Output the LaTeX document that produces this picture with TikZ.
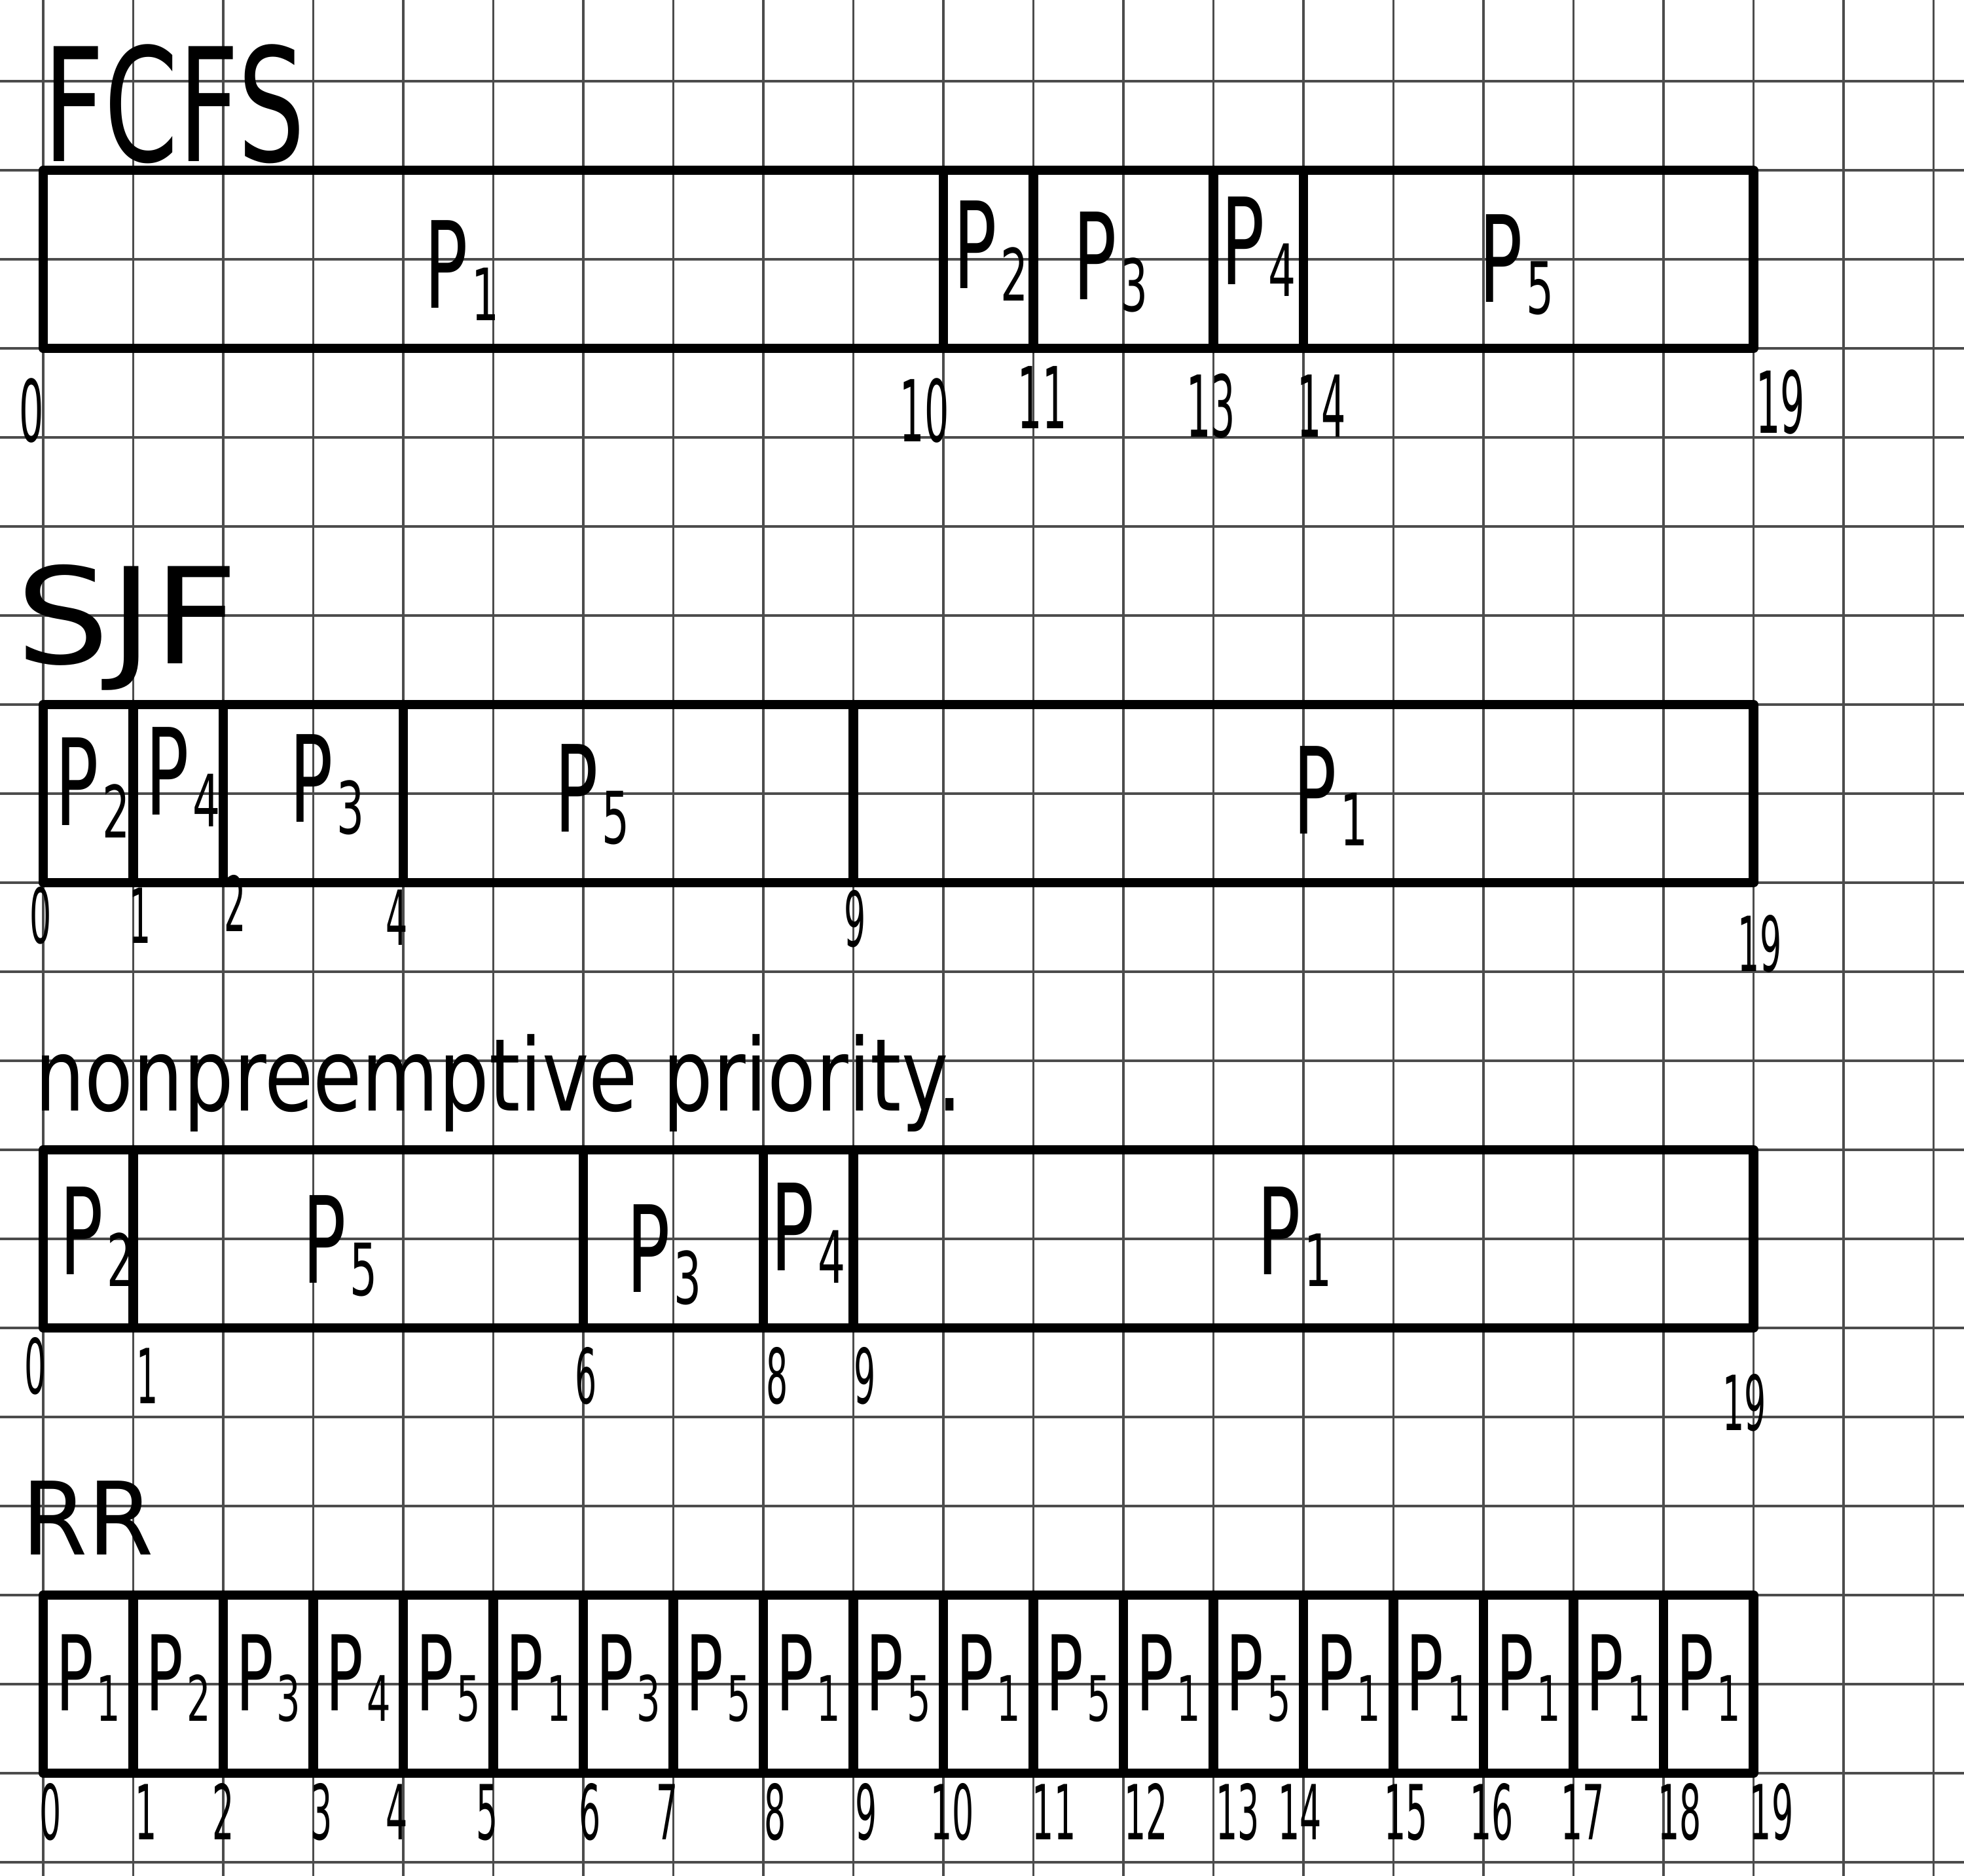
\documentclass[tikz,border=0pt]{standalone}
\usepackage{fontspec}
\usepackage{graphicx}
\setmainfont{DejaVu Sans}
\newfontfamily\handfont[FakeStretch=0.6]{DejaVu Sans}
\newfontfamily\numfont[FakeStretch=0.45]{DejaVu Sans}
\newfontfamily\titlefont{DejaVu Sans}
\newcommand{\hwtext}[3]{\resizebox{#1}{#2}{\titlefont #3}}
\newcommand{\Pn}[1]{P\kern0.03em\raisebox{-0.1em}{\scalebox{0.6}{#1}}}
\begin{document}
\begin{tikzpicture}[x=1cm,y=-0.989cm,
  gridline/.style={line width=0.7pt, draw=black!70},
  chartline/.style={line width=3pt, line join=round, line cap=round},
  plab/.style={font=\handfont\fontsize{38}{40}\selectfont, inner sep=0pt, anchor=base},
  rrlab/.style={font=\handfont\fontsize{33}{35}\selectfont, inner sep=0pt, anchor=base},
  tnum/.style={font=\numfont\fontsize{24}{26}\selectfont, inner sep=0pt, anchor=base},
  bignum/.style={font=\numfont\fontsize{27}{29}\selectfont, inner sep=0pt, anchor=base},
  title/.style={inner sep=0pt, anchor=base west}]
\useasboundingbox (-0.48cm,0.902cm) rectangle (21.338cm,-19.927cm);
% grid paper
\begin{scope}
\clip (-0.48cm,0.902cm) rectangle (21.338cm,-19.927cm);
\foreach \i in {0,...,21} \draw[gridline] (\i,-1.5) -- (\i,21);
\foreach \j in {0,...,20} \draw[gridline] (-1,\j) -- (22,\j);
\end{scope}

% ---------- FCFS ----------
\node[title] (tfcfs) at (0,0.9) {\hwtext{2.9cm}{1.3cm}{FCFS}};
\draw[chartline] (0,1) rectangle (19,3);
\foreach \t in {10,11,13,14} \draw[chartline] (\t,1) -- (\t,3);
\node[plab] (fp1) at (4.65,2.55) {\Pn{1}};
\node[plab] (fp2) at (10.53,2.33) {\Pn{2}};
\node[plab] (fp3) at (11.86,2.45) {\Pn{3}};
\node[plab] (fp4) at (13.5,2.28) {\Pn{4}};
\node[plab] (fp5) at (16.37,2.48) {\Pn{5}};
\node[bignum] (fn0) at (-0.13,4.05) {0};
\node[bignum] (fn10) at (9.79,4.05) {10};
\node[bignum] (fn11) at (11.1,3.9) {11};
\node[bignum] (fn13) at (12.97,4.0) {13};
\node[bignum] (fn14) at (14.2,4.0) {14};
\node[bignum] (fn19) at (19.3,3.95) {19};

% ---------- SJF ----------
\node[title] (tsjf) at (-0.31,6.54) {\hwtext{2.47cm}{1.1cm}{SJF}};
\draw[chartline] (0,7) rectangle (19,9);
\foreach \t in {1,2,4,9} \draw[chartline] (\t,7) -- (\t,9);
\node[plab] (sp2) at (0.55,8.36) {\Pn{2}};
\node[plab] (sp4) at (1.55,8.24) {\Pn{4}};
\node[plab] (sp3) at (3.15,8.32) {\Pn{3}};
\node[plab] (sp5) at (6.1,8.43) {\Pn{5}};
\node[plab] (sp1) at (14.3,8.45) {\Pn{1}};
\node[tnum] (sn0) at (-0.03,9.68) {0};
\node[tnum] (sn1) at (1.08,9.68) {1};
\node[tnum] (sn2) at (2.13,9.55) {2};
\node[tnum] (sn4) at (3.93,9.7) {4};
\node[tnum] (sn9) at (9.02,9.72) {9};
\node[tnum] (sn19) at (19.07,10.0) {19};

% ---------- nonpreemptive priority ----------
\node[title] (tnp) at (-0.1,11.56) {\hwtext{10.3cm}{0.85cm}{nonpreemptive priority.}};
\draw[chartline] (0,12) rectangle (19,14);
\foreach \t in {1,6,8,9} \draw[chartline] (\t,12) -- (\t,14);
\node[plab] (np2) at (0.6,13.4) {\Pn{2}};
\node[plab] (np5) at (3.3,13.5) {\Pn{5}};
\node[plab] (np3) at (6.9,13.6) {\Pn{3}};
\node[plab] (np4) at (8.5,13.36) {\Pn{4}};
\node[plab] (np1) at (13.9,13.4) {\Pn{1}};
\node[tnum] (nn0) at (-0.09,14.74) {0};
\node[tnum] (nn1) at (1.16,14.85) {1};
\node[tnum] (nn6) at (6.03,14.85) {6};
\node[tnum] (nn8) at (8.15,14.85) {8};
\node[tnum] (nn9) at (9.13,14.85) {9};
\node[tnum] (nn19) at (18.9,15.15) {19};

% ---------- RR ----------
\node[title] (trr) at (-0.24,16.55) {\hwtext{1.46cm}{0.82cm}{RR}};
\draw[chartline] (0,17) rectangle (19,19);
\foreach \t in {1,...,18} \draw[chartline] (\t,17) -- (\t,19);
\foreach \k/\p in {0/1,1/2,2/3,3/4,4/5,5/1,6/3,7/5,8/1,9/5,10/1,11/5,12/1,13/5,14/1,15/1,16/1,17/1,18/1}
  \node[rrlab] (rr\k) at (\k+0.5,18.3) {\Pn{\p}};
\foreach \n/\xx in {0/0.08,1/1.14,2/2.0,3/3.09,4/3.93,5/4.93,6/6.07,7/6.93,8/8.13,9/9.14,10/10.1,11/11.23,12/12.25,13/13.27,14/13.96,15/15.14,16/16.09,17/17.1,18/18.18,19/19.2}
  \node[tnum] (rn\n) at (\xx,19.75) {\n};
\end{tikzpicture}
\end{document}
